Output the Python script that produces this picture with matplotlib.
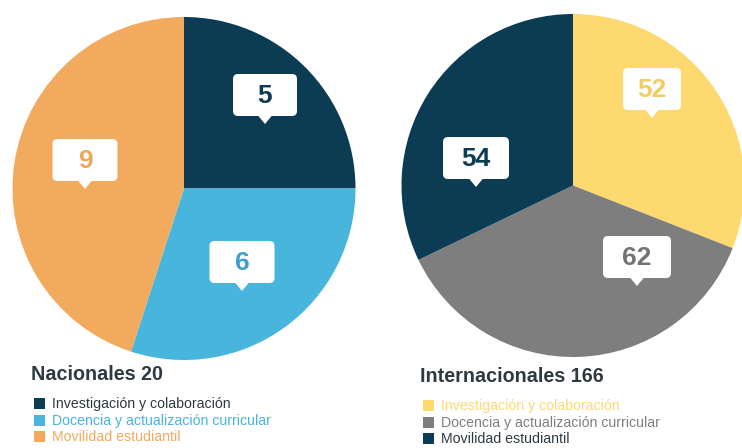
import matplotlib
matplotlib.use("Agg")
import matplotlib.pyplot as plt
from matplotlib.patches import FancyBboxPatch, Polygon, Rectangle

plt.rcParams['font.family'] = ['Liberation Sans', 'DejaVu Sans']

# datos
categorias = ['Investigación y colaboración',
              'Docencia y actualización curricular',
              'Movilidad estudiantil']
nacionales = [5, 6, 9]
internacionales = [52, 62, 54]
total_nacionales = 20
total_internacionales = 166

NAVY = '#0b3c53'
CELESTE = '#47b5dc'
NARANJA = '#f1aa5e'
AMARILLO = '#fdd96f'
GRIS = '#7e7e7e'
TEXTO = '#2e3a42'

col_nac = [NAVY, CELESTE, NARANJA]
col_int = [AMARILLO, GRIS, NAVY]
col_txt_nac = [TEXTO, CELESTE, NARANJA]
col_txt_int = [AMARILLO, GRIS, TEXTO]
col_num_nac = [NAVY, '#3f9fc6', '#eea75c']
col_num_int = ['#f2cd63', '#737373', NAVY]

# globos: centro (px) y ancho, en el orden de los sectores
globos_nac = [(265, 95, 64), (242, 262, 65), (85, 160, 65)]
globos_int = [(652, 89, 58), (637, 257, 68), (476, 158, 66)]

W, H = 742, 448
R = 171.5
fig = plt.figure(figsize=(W / 100, H / 100), dpi=100)


def pie_axes(cx, cy):
    return fig.add_axes([(cx - R) / W, (H - cy - R) / H, 2 * R / W, 2 * R / H])


def dibujar_pie(ax, valores, colores):
    ax.pie(valores, colors=colores, startangle=90, counterclock=False,
           radius=1, wedgeprops=dict(linewidth=0))
    ax.set_xlim(-1, 1)
    ax.set_ylim(-1, 1)
    ax.set_aspect('equal')
    ax.axis('off')


ax1 = pie_axes(184, 188.5)
dibujar_pie(ax1, nacionales, col_nac)

ax2 = pie_axes(573, 185.5)
dibujar_pie(ax2, internacionales, col_int)

# capa superior en pixeles para globos y leyendas
ov = fig.add_axes([0, 0, 1, 1], facecolor='none')
ov.set_xlim(0, W)
ov.set_ylim(H, 0)
ov.axis('off')


def globo(x, y, w, texto, color, h=42):
    caja = FancyBboxPatch((x - w / 2 + 5, y - h / 2 + 5), w - 10, h - 10,
                          boxstyle='round,pad=5', fc='white', ec='none')
    ov.add_patch(caja)
    punta = Polygon([(x - 7, y + h / 2 - 0.5), (x + 7, y + h / 2 - 0.5),
                     (x, y + h / 2 + 8)], closed=True, fc='white', ec='none')
    ov.add_patch(punta)
    ov.text(x, y + 1, texto, ha='center', va='center', fontsize=19,
            fontweight='bold', color=color)


for (x, y, w), v, c in zip(globos_nac, nacionales, col_num_nac):
    globo(x, y, w, str(v), c)
for (x, y, w), v, c in zip(globos_int, internacionales, col_num_int):
    globo(x, y, w, str(v), c)


def leyenda(x, y, titulo, colores, colores_txt):
    ov.text(x, y, titulo, ha='left', va='center', fontsize=14.2,
            fontweight='bold', color=TEXTO)
    for i, (cat, c, ct) in enumerate(zip(categorias, colores, colores_txt)):
        yy = y + 29 + i * 16.5
        ov.add_patch(Rectangle((x + 3, yy - 5.5), 11, 11, fc=c, ec='none'))
        ov.text(x + 21, yy, cat, ha='left', va='center', fontsize=10.2,
                color=ct)


leyenda(31, 375, f'Nacionales {total_nacionales}', col_nac, col_txt_nac)
leyenda(420, 377, f'Internacionales {total_internacionales}', col_int, col_txt_int)

fig.savefig('out.png', dpi=100, facecolor='white')
